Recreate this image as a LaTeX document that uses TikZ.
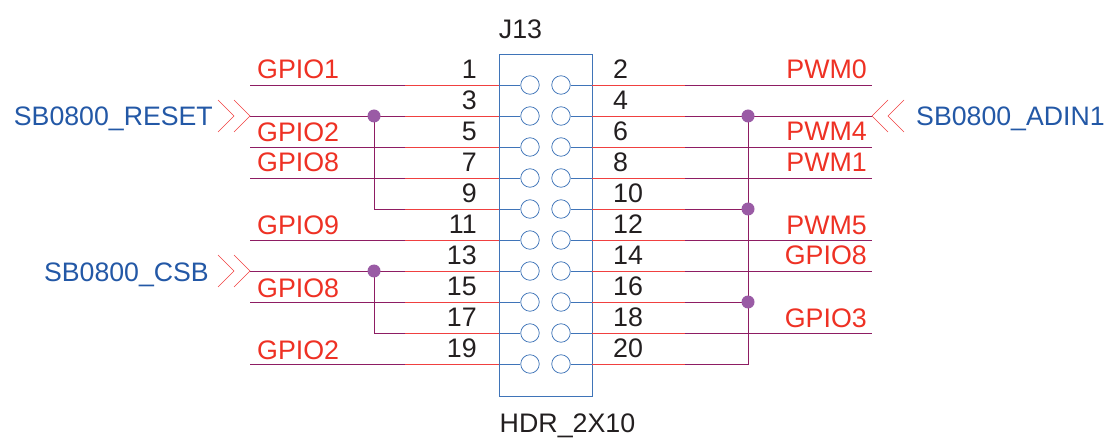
\documentclass[tikz,border=0pt]{standalone}
\usepackage{fontspec}
\setmainfont{Liberation Sans}
\definecolor{netc}{HTML}{8E1D63}
\definecolor{pinc}{HTML}{F04040}
\definecolor{labc}{HTML}{EE3124}
\definecolor{boxc}{HTML}{3F74B8}
\definecolor{bluet}{HTML}{2358A6}
\definecolor{dotc}{HTML}{9A5BA5}
\definecolor{numc}{HTML}{231F20}
\tikzset{x=1pt,y=-1pt,
 net/.style={draw=netc,line width=0.75pt},
 pinr/.style={draw=pinc,line width=0.75pt},
 pinb/.style={draw=boxc,line width=0.75pt},
 hole/.style={circle,draw=boxc,line width=0.75pt,minimum size=18.5pt,inner sep=0pt,fill=white},
 jdot/.style={circle,fill=dotc,minimum size=13pt,inner sep=0pt},
 lab/.style={text=labc,font=\fontsize{26.8}{30}\selectfont,inner sep=0pt},
 num/.style={text=numc,font=\fontsize{26.8}{30}\selectfont,inner sep=0pt},
 sig/.style={text=bluet,font=\fontsize{26.7}{30}\selectfont,inner sep=0pt},
 chev/.style={draw=pinc,line width=0.5pt}}
\begin{document}
\begin{tikzpicture}
\useasboundingbox (0,0) rectangle (1105,438);
\node[draw=boxc,line width=0.9pt,minimum width=93pt,minimum height=342pt,inner sep=0pt] (box) at (545.5,225) {};
% rows
\foreach \i/\y in {1/85,2/116,3/147,4/178,5/209,6/240,7/271,8/302,9/333,10/364}{
 \coordinate (L\i) at (250,\y);
 \coordinate (LP\i) at (405,\y);
 \coordinate (BL\i) at (499,\y);
 \coordinate (BR\i) at (592,\y);
 \coordinate (RP\i) at (685,\y);
 \coordinate (R\i) at (872,\y);
 \node[hole] (hl\i) at (530,\y) {};
 \node[hole] (hr\i) at (561,\y) {};
 \draw[pinb] (BL\i) -- (hl\i.west);
 \draw[pinb] (hr\i.east) -- (BR\i);
 \draw[pinr] (LP\i) -- (BL\i);
 \draw[pinr] (BR\i) -- (RP\i);
}
\foreach \i in {1,2,3,4,6,7,8,10}{\draw[net] (L\i) -- (LP\i);}
\draw[net] (LP5) -- (374,209) -- (374,116);
\draw[net] (LP9) -- (374,333) -- (374,271);
\foreach \i in {1,2,3,4,6,7,9}{\draw[net] (RP\i) -- (R\i);}
\draw[net] (RP5) -- (748,209);
\draw[net] (RP8) -- (748,302);
\draw[net] (RP10) -- (748,364) -- (748,116);
\foreach \n/\x/\y in {ja/374/116,jb/374/271,jc/748/116,jd/748/209,je/748/302}{\node[jdot] (\n) at (\x,\y) {};}
% left labels
\foreach \t/\y in {GPIO1/69,GPIO2/132,GPIO8/162,GPIO9/225,GPIO8/288,GPIO2/350}{\node[lab,anchor=west] (a\y) at (257,\y) {\t};}
\foreach \t/\y in {PWM0/69,PWM4/131,PWM1/162,PWM5/225,GPIO8/255,GPIO3/318}{\node[lab,anchor=east] (b\y) at (867,\y) {\t};}
% numbers
\foreach \t/\y in {1/69,3/100,5/131,7/162,9/193,11/224,13/255,15/286,17/317,19/348}{\node[num,anchor=east] (n\t) at (477,\y) {\t};}
\foreach \t/\y in {2/69,4/100,6/131,8/162,10/193,12/224,14/255,16/286,18/317,20/348}{\node[num,anchor=west] (n\t) at (613,\y) {\t};}
\node[num] (jt) at (520.5,29) {J13};
\node[num] (jbt) at (567.5,426) {HDR\_2X10};
\node[sig,anchor=east] (s1) at (213,119) {SB0800\_RESET};
\node[sig,anchor=east] (s2) at (209,275) {SB0800\_CSB};
\node[sig,anchor=west] (s3) at (916,119) {SB0800\_ADIN1};
% chevrons
\draw[chev] (218,100) -- (234,116) -- (218,132);
\draw[chev] (234,100) -- (250,116) -- (234,132);
\draw[chev] (218,255) -- (234,271) -- (218,287);
\draw[chev] (234,255) -- (250,271) -- (234,287);
\draw[chev] (904,100) -- (888,116) -- (904,132);
\draw[chev] (888,100) -- (872,116) -- (888,132);
\end{tikzpicture}
\end{document}
